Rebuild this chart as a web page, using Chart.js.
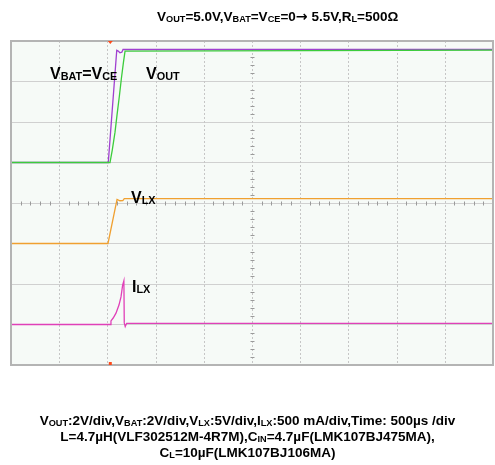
<!DOCTYPE html>
<html><head><meta charset="utf-8">
<script src="https://cdn.jsdelivr.net/npm/chart.js@4.4.0/dist/chart.umd.min.js"></script>
<style>
html,body{margin:0;padding:0;background:#fff;}
#wrap{position:relative;width:495px;height:465px;overflow:hidden;font-family:"Liberation Sans",Arial,sans-serif;font-weight:bold;color:#000;}
canvas{position:absolute;left:0;top:0;}
.t{position:absolute;white-space:nowrap;line-height:1;}
.s{font-size:0.68em;vertical-align:-0.08em;}
.ar{font-family:"DejaVu Sans",sans-serif;font-size:1.05em;}
.foot{position:absolute;left:0;width:495px;text-align:center;white-space:nowrap;font-size:13.5px;line-height:14.5px;}
</style></head><body>
<div id="wrap">
<canvas id="c" width="495" height="465"></canvas>
<div class="t" id="title" style="left:157px;top:9px;font-size:13.5px;">V<span class="s">OUT</span>=5.0V,V<span class="s">BAT</span>=V<span class="s">CE</span>=0<span class="ar">&#x2192;</span>&nbsp;5.5V,R<span class="s">L</span>=500&#x3A9;</div>
<div class="t" style="left:50px;top:66px;font-size:16px;">V<span class="s">BAT</span>=V<span class="s">CE</span></div>
<div class="t" style="left:146px;top:66px;font-size:16px;">V<span class="s">OUT</span></div>
<div class="t" style="left:131px;top:190px;font-size:16px;">V<span class="s">LX</span></div>
<div class="t" style="left:132px;top:279px;font-size:16px;">I<span class="s">LX</span></div>
<div class="foot" style="top:414px;">V<span class="s">OUT</span>:2V/div,V<span class="s">BAT</span>:2V/div,V<span class="s">LX</span>:5V/div,I<span class="s">LX</span>:500 mA/div,Time: 500&#xB5;s /div<br>L=4.7&#xB5;H(VLF302512M-4R7M),C<span class="s">IN</span>=4.7&#xB5;F(LMK107BJ475MA),<br>C<span class="s">L</span>=10&#xB5;F(LMK107BJ106MA)</div>
</div>
<script>
// ---- data (time in microseconds, physical units) ----
const VOUT_T = [0, 1027, 1050, 1079, 1100, 1124, 1145, 1166, 1183, 5000];
const VOUT_V = [0, 0, 0.6, 1.5, 2.35, 3.27, 4.15, 4.93, 5.5, 5.55];

const VBAT_T = [0, 1009, 1097, 1112, 1130, 1150, 1162, 5000];
const VBAT_V = [0, 0, 5.54, 5.5, 5.42, 5.45, 5.58, 5.58];

const VLX_T = [0, 1006, 1100, 1130, 1160, 1175, 5000];
const VLX_V = [0, 0, 5.45, 5.28, 5.3, 5.53, 5.55];

const ILX_T = [0, 1027, 1037, 1060, 1089, 1120, 1141, 1158, 1171, 1175, 1185, 1200, 5000];
const ILX_MA = [0, 0, 45, 80, 140, 240, 340, 485, 540, 20, -25, 15, 15];

// channel scale (units per division) and ground level (division from bottom)
const CH = {
  vout: {perDiv: 2, gnd: 5},
  vbat: {perDiv: 2, gnd: 5},
  vlx: {perDiv: 5, gnd: 3},
  ilx: {perDiv: 500, gnd: 1}
};
const TIME_PER_DIV = 500, X_DIVS = 10, Y_DIVS = 8, TRIGGER_T = 1030;

function pts(t, v, ch) { return t.map((x, i) => ({x: x, y: ch.gnd + v[i] / ch.perDiv})); }

const frame = {
  id: 'frame',
  beforeDraw(chart) {
    const a = chart.chartArea, c = chart.ctx;
    c.save(); c.fillStyle = '#f6faf7'; c.fillRect(a.left, a.top, a.right - a.left, a.bottom - a.top); c.restore();
  },
  beforeDatasetsDraw(chart) {
    const a = chart.chartArea, c = chart.ctx, xs = chart.scales.x, ys = chart.scales.y;
    c.save();
    // vertical dashed division lines
    c.strokeStyle = '#c6c6c6'; c.lineWidth = 1; c.setLineDash([2, 2]);
    c.beginPath();
    for (let i = 1; i < X_DIVS; i++) {
      const px = Math.round(xs.getPixelForValue(i * TIME_PER_DIV)) + 0.5;
      c.moveTo(px, a.top); c.lineTo(px, a.bottom);
    }
    c.stroke();
    c.setLineDash([]);
    // minor ticks on center lines
    c.strokeStyle = '#9a9a9a';
    const cx = Math.round(xs.getPixelForValue(TIME_PER_DIV * X_DIVS / 2)) + 0.5;
    const cy = Math.round(ys.getPixelForValue(Y_DIVS / 2)) + 0.5;
    c.beginPath();
    for (let i = 0; i <= X_DIVS * 5; i++) {
      if (i % 5 === 0) continue;
      const px = Math.round(xs.getPixelForValue(i * TIME_PER_DIV / 5)) + 0.5;
      c.moveTo(px, cy - 2); c.lineTo(px, cy + 2);
    }
    for (let j = 0; j <= Y_DIVS * 5; j++) {
      if (j % 5 === 0) continue;
      const py = Math.round(ys.getPixelForValue(j / 5)) + 0.5;
      c.moveTo(cx - 2, py); c.lineTo(cx + 2, py);
    }
    c.stroke();
    c.restore();
  },
  afterDraw(chart) {
    const a = chart.chartArea, c = chart.ctx, xs = chart.scales.x;
    c.save();
    c.strokeStyle = '#b4b4b4'; c.lineWidth = 2;
    c.strokeRect(a.left, a.top, a.right - a.left, a.bottom - a.top);
    const tx = xs.getPixelForValue(TRIGGER_T);
    c.fillStyle = '#ff4a1a';
    c.beginPath(); c.moveTo(tx - 2.5, a.top); c.lineTo(tx + 2.5, a.top); c.lineTo(tx, a.top + 3); c.closePath(); c.fill();
    c.fillRect(tx - 1.5, a.bottom - 3, 3, 3);
    c.restore();
  }
};

new Chart(document.getElementById('c'), {
  type: 'line',
  data: {
    datasets: [
      {label: 'VOUT', data: pts(VOUT_T, VOUT_V, CH.vout), borderColor: '#3ccc3c'},
      {label: 'VBAT', data: pts(VBAT_T, VBAT_V, CH.vbat), borderColor: '#a040d0'},
      {label: 'VLX', data: pts(VLX_T, VLX_V, CH.vlx), borderColor: '#f0a030'},
      {label: 'ILX', data: pts(ILX_T, ILX_MA, CH.ilx), borderColor: '#e040b8'}
    ]
  },
  options: {
    responsive: false, animation: false,
    layout: {padding: {left: 11, right: 2, top: 41, bottom: 100}},
    elements: {point: {radius: 0}, line: {borderWidth: 1.3, tension: 0}},
    plugins: {legend: {display: false}, tooltip: {enabled: false}},
    scales: {
      x: {type: 'linear', min: 0, max: TIME_PER_DIV * X_DIVS,
          ticks: {display: false, stepSize: TIME_PER_DIV},
          grid: {display: false, drawTicks: false},
          border: {display: false}},
      y: {type: 'linear', min: 0, max: Y_DIVS,
          ticks: {display: false, stepSize: 1},
          grid: {drawTicks: false, color: '#d0d0d0', lineWidth: 1},
          border: {display: false}}
    }
  },
  plugins: [frame]
});
</script>
</body></html>
